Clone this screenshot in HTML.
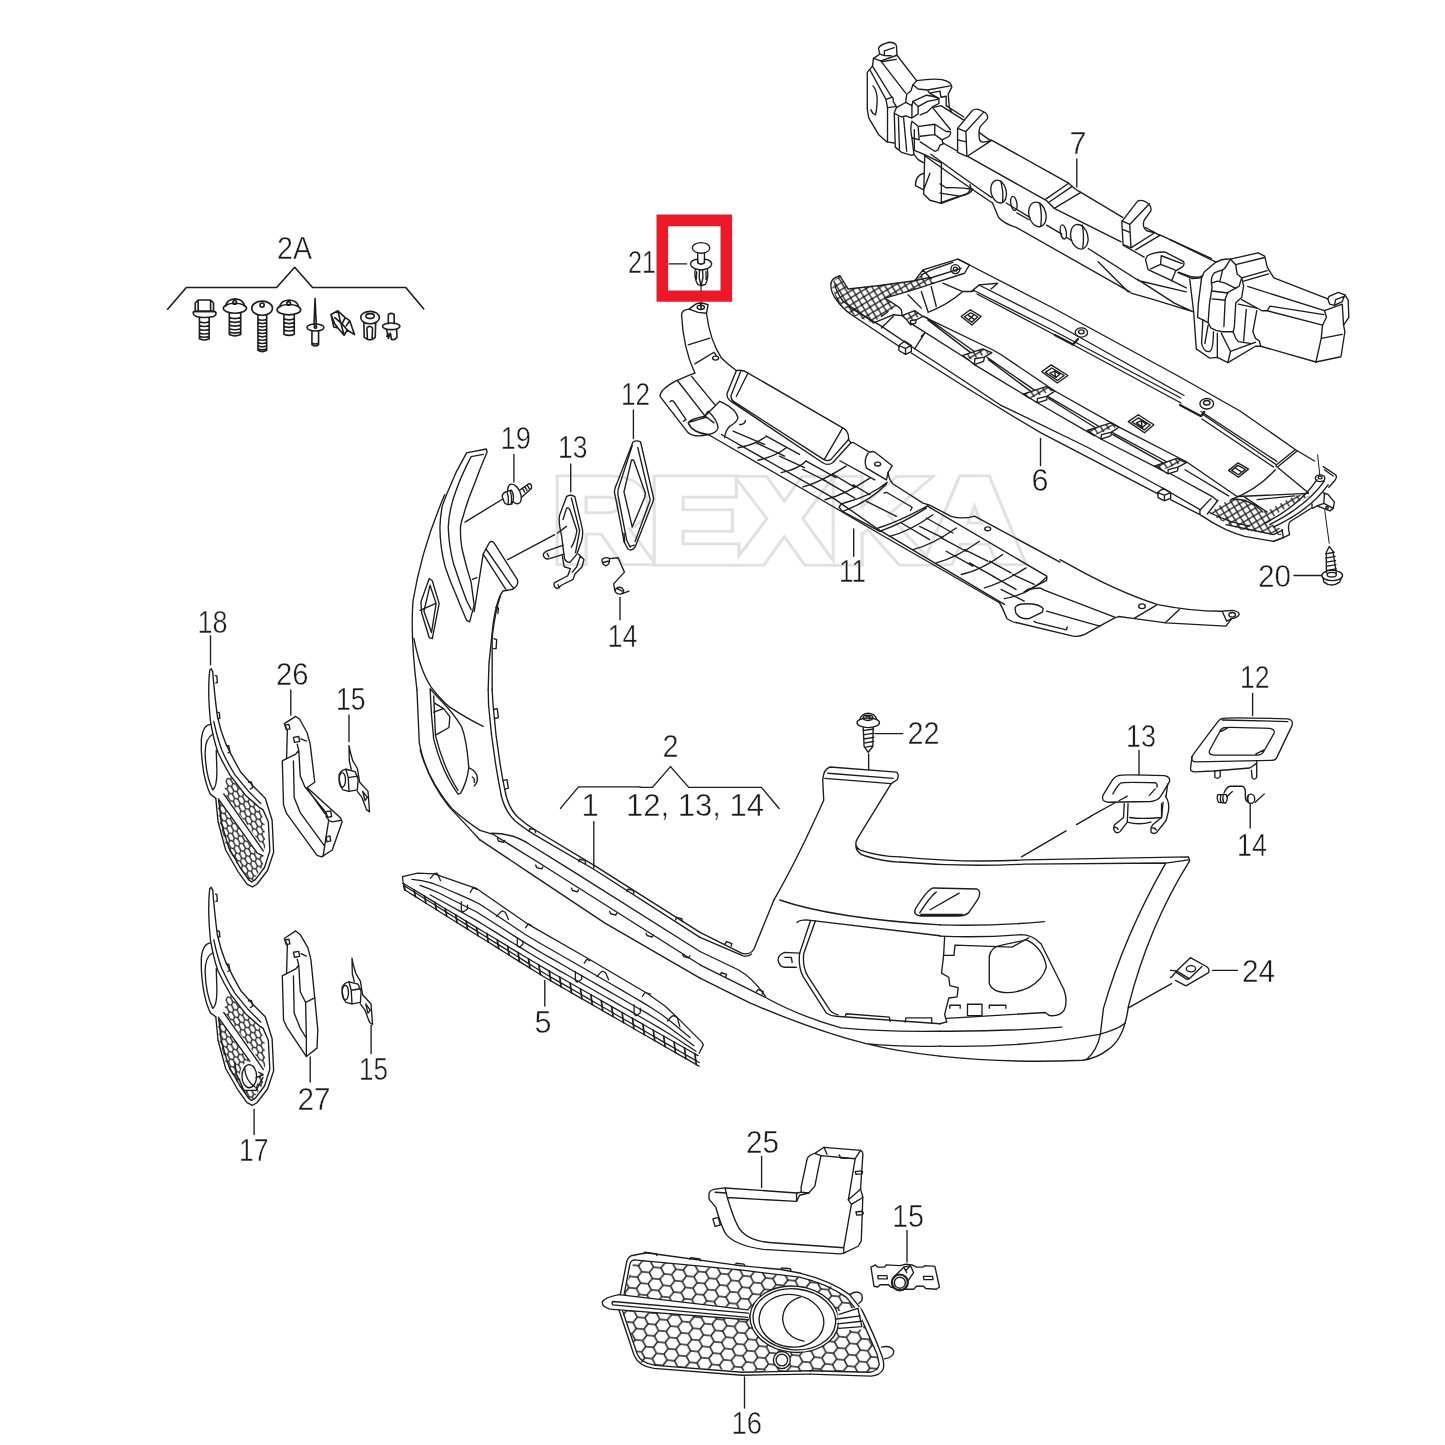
<!DOCTYPE html>
<html><head><meta charset="utf-8"><title>Bumper parts diagram</title>
<style>
html,body{margin:0;padding:0;background:#fff;}
body{width:1445px;height:1445px;overflow:hidden;font-family:"Liberation Sans",sans-serif;}
svg{display:block;position:absolute;left:0;top:0;}
svg text{filter:grayscale(1);}
.l{fill:none;stroke:#1c1c1c;stroke-width:1.35;stroke-linecap:round;stroke-linejoin:round;vector-effect:non-scaling-stroke;}
.l *{vector-effect:non-scaling-stroke;}
.t{fill:none;stroke:#1c1c1c;stroke-width:1;stroke-linecap:round;stroke-linejoin:round;vector-effect:non-scaling-stroke;}
.t *{vector-effect:non-scaling-stroke;}
.w{fill:#fff;}
text{font-family:"Liberation Sans",sans-serif;fill:#1a1a1a;stroke:#fff;stroke-width:0.450;}
</style></head><body>
<svg width="1445" height="1445" viewBox="0 0 1445 1445" font-size="31">
<g font-size="117.500" font-weight="bold" style="stroke-linejoin:miter">
<text x="553" y="560.500" textLength="470" lengthAdjust="spacingAndGlyphs" style="fill:#e1e1e1;stroke:#e1e1e1;stroke-width:11">REXKA</text>
<text x="553" y="560.500" textLength="470" lengthAdjust="spacingAndGlyphs" style="fill:#fff;stroke:#fff;stroke-width:5.500">REXKA</text>
</g>

<!-- 2A fastener kit : traced in zoom space region [150,220,450,370] scale 4.817 -->
<g class="l" transform="translate(150,220) scale(0.2076)" style="stroke-width:1.600">
<path d="M85 430 L175 325 L610 325 L697 228 L783 325 L1232 325 L1318 428"/>
<!-- hex bolt -->
<path d="M218 400 L232 385 L292 385 L306 400 L306 440 L218 440 Z M232 385 L232 440 M292 385 L292 440"/>
<path d="M208 448 Q208 440 218 440 L306 440 Q318 440 318 452 Q318 470 262 470 Q208 470 208 448 Z"/>
<path d="M238 470 L238 572 Q262 584 285 572 L285 470 M238 490 Q262 500 285 490 M238 508 Q262 518 285 508 M238 526 Q262 536 285 526 M238 544 Q262 554 285 544 M238 560 Q262 570 285 560"/>
<!-- screw 2 -->
<path d="M365 415 Q370 382 410 380 Q450 382 455 415"/>
<ellipse cx="409" cy="425" rx="56" ry="24"/>
<circle cx="408" cy="397" r="9"/>
<path d="M382 448 L382 552 Q409 564 437 552 L437 448 M382 470 Q409 480 437 470 M382 488 Q409 498 437 488 M382 506 Q409 516 437 506 M382 524 Q409 534 437 524 M382 540 Q409 550 437 540"/>
<!-- screw 3 long -->
<ellipse cx="540" cy="425" rx="50" ry="34"/>
<circle cx="540" cy="410" r="10"/>
<path d="M520 458 L520 628 Q541 640 562 628 L562 458 M520 478 Q541 488 562 478 M520 494 Q541 504 562 494 M520 510 Q541 520 562 510 M520 526 Q541 536 562 526 M520 542 Q541 552 562 542 M520 558 Q541 568 562 558 M520 574 Q541 584 562 574 M520 590 Q541 600 562 590 M520 606 Q541 616 562 606 M520 620 Q541 630 562 620"/>
<!-- screw 4 -->
<path d="M625 418 Q630 387 670 385 Q710 387 715 418"/>
<ellipse cx="669" cy="432" rx="57" ry="25"/>
<circle cx="668" cy="402" r="9"/>
<path d="M645 456 L645 550 Q670 562 695 550 L695 456 M645 476 Q670 486 695 476 M645 494 Q670 504 695 494 M645 512 Q670 522 695 512 M645 530 Q670 540 695 530"/>
<!-- blind rivet -->
<path d="M795 378 L790 505 M795 378 L801 505"/>
<ellipse cx="797" cy="518" rx="41" ry="17"/>
<path d="M780 534 L780 600 Q796 614 812 600 L812 534 M780 592 Q796 602 812 592"/>
<circle cx="797" cy="516" r="6"/>
<!-- spring clip -->
<path d="M872 455 L905 437 L940 470 L962 485 L985 552 L950 530 L935 555 L905 520 L885 515 Z M872 455 L890 500 L905 520 M905 437 L915 480 L935 555 M890 470 L925 500 M940 470 L925 500 L950 530 M962 485 L945 510"/>
<!-- push clip -->
<ellipse cx="1060" cy="470" rx="45" ry="30"/>
<ellipse cx="1060" cy="463" rx="20" ry="12"/>
<path d="M1030 495 L1032 565 Q1058 590 1085 565 L1087 495 M1045 520 L1047 570 M1072 520 L1070 572 M1045 520 Q1058 505 1072 520"/>
<!-- expanding rivet -->
<path d="M1148 500 L1148 455 Q1162 445 1176 455 L1176 500"/>
<ellipse cx="1162" cy="512" rx="42" ry="16"/>
<path d="M1140 528 L1148 570 L1158 545 L1163 575 Q1180 580 1190 565 L1188 528 M1140 560 L1150 550"/>
</g>
<text x="277" y="258.500" font-size="30.500" textLength="35" lengthAdjust="spacingAndGlyphs">2A</text>

<!-- part 7 left end: zoom region [860,35,1010,185] scale 9.633 -->
<g class="l" transform="translate(860,35) scale(0.10381)">
<path d="M190 185 L178 130 Q185 95 280 70 Q345 70 352 110 L356 195 M235 195 L235 152 L330 122 M190 185 L235 198 L300 200 M215 255 L350 235"/>
<path d="M190 185 L130 225 L120 300 L70 360 L70 720 L85 800 L180 960 L260 1030 L330 1040"/>
<path d="M130 225 L200 250 L356 195 L545 440"/>
<path d="M200 250 L440 560"/>
<path d="M120 300 L300 590 L320 610 L320 640 L350 690"/>
<path d="M95 335 L250 620 L305 600 M250 620 L265 700 L265 1030 M265 700 L340 690"/>
<path d="M125 490 Q190 560 150 770 Q120 760 105 720"/>
<path d="M545 440 Q700 415 790 430 Q880 450 885 500 L850 570 L860 700 L880 735"/>
<path d="M545 440 L510 480 L560 520 L650 530 L870 490 M650 530 L670 560 L770 540 L780 600 L830 590 L830 680 M670 560 L760 610 M770 540 L775 560"/>
<path d="M510 480 L490 540 L450 570 L440 650 L350 700 L330 750 L340 1080 L400 1130 L500 1160 L520 1150"/>
<path d="M440 650 L500 680 L510 640 L640 580 L700 590 L760 610 L760 660 L700 690 L650 740 L580 770"/>
<path d="M500 680 L500 800 L440 780 L400 790 L340 760 M510 640 L560 690 L650 640 L750 620 M560 690 L560 760 L500 800"/>
<path d="M420 800 L450 1120 M370 790 L380 1100"/>
<path d="M500 830 Q480 900 500 990 L520 1150 L560 1200 L610 1230 M500 830 L560 880 L570 1010 L500 990"/>
<path d="M570 880 L720 860 L830 930 L870 930 Q880 960 850 980 L790 1010 L800 1050 L770 1060 L750 1110 L720 1120 L580 1030 M720 860 L720 960 L580 975 M720 960 L790 1010"/>
<path d="M700 700 L870 910 M700 700 L780 680 L1000 820 M830 680 L1000 790"/>
<!-- hook tab 2 -->
<path d="M940 900 L1080 730 Q1110 705 1150 720 L1210 750 Q1240 780 1225 810 L1160 880 Q1140 910 1150 1000 Q1160 1040 1200 1030 L1260 1020 L1030 1170 L940 1130 Z"/>
<path d="M940 900 L1020 930 L1030 1170 M1020 930 L1190 745 M940 1010 L1025 1030 M1150 940 L1260 1020"/>
<path d="M800 1040 L940 1120"/>
</g>

<!-- part 7 middle: zoom C region [940,120,1160,340] scale 6.568 -->
<g class="l" transform="translate(940,120) scale(0.15225)">
<path d="M335 130 L845 415 L890 455 L925 475 L1200 640"/>
<path d="M845 415 L695 520 M868 436 L715 540 M925 475 L750 580"/>
<path d="M185 240 L700 530 L750 580 L1190 800"/>
<path d="M-60 225 Q180 400 340 510 M-100 235 Q170 430 345 545"/>
<path d="M435 545 L590 640 M505 610 L585 655 M700 690 L800 750 M830 770 L860 790"/>
<ellipse cx="385" cy="470" rx="50" ry="76" transform="rotate(-14 385 470)"/>
<path d="M400 400 Q418 470 412 540"/>
<ellipse cx="485" cy="548" rx="20" ry="47" transform="rotate(-10 485 548)"/>
<ellipse cx="640" cy="620" rx="56" ry="82" transform="rotate(-14 640 620)"/>
<path d="M655 545 Q672 620 662 695"/>
<ellipse cx="810" cy="735" rx="19" ry="47" transform="rotate(-10 810 735)"/>
<ellipse cx="915" cy="767" rx="56" ry="82" transform="rotate(-14 915 767)"/>
<path d="M935 690 Q948 760 938 840"/>
<path d="M345 545 L385 640 Q420 680 500 705 L1250 1130"/>
<!-- under block left -->
<path d="M0 420 L40 445 Q130 440 215 455 Q200 490 130 500 L0 545 M0 480 L130 500"/>
</g>
<!-- under-block left of part 7 in zoom A region [850,30,1150,330] scale 4.817 -->
<g class="l" transform="translate(850,30) scale(0.2076)">
<path d="M310 580 L360 600 L355 790 L385 820 L440 835 L560 790 Q590 770 578 745 M440 640 L440 835 M355 690 Q315 700 315 750 L355 770 M385 690 L355 770 M360 600 L440 640 M310 480 L310 580"/>
</g>
<!-- part 7 mid-right: zoom E region [1060,190,1250,380] scale 7.605 -->
<g class="l" transform="translate(1060,190) scale(0.13149)">
<path d="M470 240 L590 85 Q620 70 660 95 Q700 120 690 160 L640 230 Q620 280 660 310 L720 325 L540 440 L480 415 Z M470 235 L530 262 L540 440 M530 262 L680 105 M475 300 L532 322"/>
<path d="M650 285 L760 345 L575 455 M755 340 L1150 520"/>
<path d="M480 420 L640 510"/>
<path d="M665 500 Q720 470 800 472 L940 545 Q950 570 930 585 L880 615 L850 690 L670 605 L650 530 Z M770 500 L765 565 L690 600 M765 565 L870 605 L880 615 M770 500 L930 560"/>
<path d="M900 625 L1000 660 Q1060 670 1085 650"/>
<path d="M215 445 L600 690 L960 775 M540 785 L700 830 L1010 925 M290 545 L520 775 M590 680 L870 860 L1010 925 M850 690 L960 745"/>
</g>
<!-- part 7 right end: zoom D region [1170,220,1360,410] scale 7.605 -->
<g class="l" transform="translate(1170,220) scale(0.13149)">
<path d="M0 150 L350 320"/>
<path d="M350 320 Q400 290 460 298 L440 330 Q420 370 400 380 L340 400 Q310 430 315 480 L320 510 L300 640 L290 780 L310 820 L350 840 L400 850 L480 850 L500 900 L520 925 L620 940 L650 930"/>
<path d="M350 320 L260 395 L240 440 L215 640 L210 740 L250 760 L290 780"/>
<path d="M240 440 L170 445 L60 400 M150 450 L180 700 L200 980 L300 1050 L360 1045 L440 1085 L650 960 L690 960"/>
<path d="M460 298 L670 250 L720 275 L740 360 L790 440 L1200 600"/>
<path d="M460 298 L500 340 L510 410 L545 440 L525 505 L440 550 L420 600 L410 810"/>
<path d="M500 340 L720 285 M545 440 L740 385 M560 465 L750 410"/>
<path d="M545 440 L560 500 L545 590 L500 630 L490 810 L480 850"/>
<path d="M315 480 L360 465 L420 480 L500 520 M320 540 L440 555 M320 600 L420 610 M400 380 L380 465"/>
<path d="M590 505 L1175 690 M545 605 L700 690 L740 690 L760 655 L1170 720 M740 690 L1160 800"/>
<path d="M1200 600 L1210 580 L1280 550 L1330 570 L1355 610 L1360 740 L1320 800 L1330 850 L1300 1040 L1110 1080"/>
<path d="M1200 600 L1215 640 L1250 650 L1310 620 L1330 570 M1250 650 L1260 605 L1325 580"/>
<path d="M1175 690 L1310 640 L1320 800 M1175 690 L1190 740 L1160 800 L1150 900 L1110 1080 M1150 900 L1310 870"/>
<path d="M660 690 L630 850 L650 900 L680 920 L690 960 L1110 1080 M580 680 L560 920 M520 640 L660 670"/>
<path d="M250 760 L240 940 Q260 1010 300 1000 Q330 990 330 850 M290 800 L265 940 M360 860 L360 1045 M390 860 L460 1000 L440 1085 M460 1000 L620 940"/>
</g>
<line class="l" x1="1076.800" y1="159" x2="1076.800" y2="187"/>
<text x="1069.500" y="154" font-size="31" textLength="17" lengthAdjust="spacingAndGlyphs">7</text>

<defs>
<pattern id="xh" width="8.400" height="8.400" patternUnits="userSpaceOnUse" patternTransform="rotate(14)">
<path d="M0 0 L8.400 8.400 M8.400 0 L0 8.400" stroke="#1c1c1c" stroke-width="1.300" fill="none"/>
</pattern>
<pattern id="xh6" width="8.400" height="8.400" patternUnits="userSpaceOnUse" patternTransform="scale(6.0208) rotate(14)">
<path d="M0 0 L8.400 8.400 M8.400 0 L0 8.400" stroke="#1c1c1c" stroke-width="1.300" fill="none"/>
</pattern>
<pattern id="xh8" width="8.400" height="8.400" patternUnits="userSpaceOnUse" patternTransform="scale(8.028) rotate(14)">
<path d="M0 0 L8.400 8.400 M8.400 0 L0 8.400" stroke="#1c1c1c" stroke-width="1.300" fill="none"/>
</pattern>
</defs>
<!-- part 6 global long lines -->
<g class="l">
<path d="M831 283 Q830 292 836.6 300 Q842 308 851.500 314.800 L898.900 346.300 M911.300 353 Q975 394 1041 432.800 L1158 493.800 M1170.500 499.700 L1200 514.600 Q1212 523 1226 529.600 Q1236 534 1244.700 536.400 L1273.400 541.400 L1283.400 537.700"/>
<path d="M848 306.500 L880.600 325.600 L914.700 348.800 Q960 378 1000 404.800 L1087 447 L1160.700 487 L1200 509.600"/>
<path d="M957.800 259 L1055 309 L1112 340 L1180 377 L1240 411 L1296 450 L1314.500 461"/>
<path d="M979 285 L1055 323.500 L1184 395.500 M974 290.500 L1055 331.500 L1181 398 M977 294 L1055 335 L1181 403"/>
<path d="M1201 411.500 L1277 461.500 M1203 414.500 L1276 464.500 M1202 419 L1273.500 467"/>
<path d="M923 316.400 L992 349.500 L1000 354 L1054.800 391 L1119 427.200 L1186 461.500 L1237 496.500"/>
<path d="M926.5 317.5 L974.0 351.2 M927.8 319.9 L970.3 352.4 M987.1 357.4 L1034.2 389.9 M988.4 359.8 L1030.5 391.1 M1047.3 396.1 L1098.4 426.0 M1048.6 398.5 L1094.7 427.2 M1111.5 432.2 L1166.3 461.5 M1112.8 434.6 L1162.6 462.7"/>
<path d="M910.5 323.1 L968.6 360.0 M974.4 364.6 L1030.5 398.5 M1038.6 403.5 L1094.7 435.9 M1100.9 439.0 L1161.9 470.2"/>
</g>
<g class="l"><ellipse cx="1081.400" cy="332.500" rx="6.200" ry="4.600"/><ellipse cx="1081.400" cy="331.800" rx="2.800" ry="2"/><path d="M1054.800 335 L1073 344.500 L1078 339" stroke-width="2.200"/></g>
<!-- part 6 left: zoom F region [815,250,1055,490] scale 6.0208 -->
<g class="l" transform="translate(815,250) scale(0.16609)">
<path fill="url(#xh6)" stroke="none" d="M95 200 L150 155 L200 235 L340 215 L600 185 L640 150 L700 175 L715 200 L560 250 L420 290 L500 340 L440 370 L400 400 L350 440 L220 390 L130 300 Z"/>
<path d="M96 200 Q100 170 150 155 L200 235 Q400 215 600 185 L690 165 M120 205 Q125 250 170 310 L345 430"/>
<path d="M600 185 L650 120 L860 55 L930 90 L900 140 M640 150 L700 120 L830 75 M690 170 L880 110 M715 200 L900 140 M650 120 L700 175"/>
<circle cx="845" cy="115" r="27"/><circle cx="845" cy="115" r="12"/>
<path d="M420 290 Q600 240 715 200 M420 290 L500 340 L520 360 L525 395 M350 440 L470 390 L525 395 M400 400 L440 370"/>
<path d="M560 270 L640 350 M640 250 L680 370 M700 220 L730 340 M680 375 Q800 330 890 250 M770 200 L890 250 L940 250 L990 210 M940 250 L960 245 M990 210 L1100 200 L1060 235"/>
<path fill="url(#xh6)" stroke="none" d="M525 395 L600 365 L640 395 L570 430 Z"/>
<path d="M525 395 L600 365 L650 400 L610 420 L605 440 L575 450 L550 418 Z M575 425 L610 420 M575 425 L575 450"/>
<path d="M400 470 L470 400 M600 595 L660 500 L640 520 M650 400 L660 400"/>
<path d="M505 575 L540 548 L580 575 L580 612 L545 628 L505 605 Z M505 575 L545 592 L580 575 M545 592 L545 628"/>
<path d="M880 400 L935 360 L1000 400 L945 452 Z M900 402 L938 378 L980 402 L944 435 Z M925 395 L955 415 M955 392 L928 418"/>
<path fill="url(#xh6)" stroke="none" d="M890 635 L1010 595 L1050 620 L940 660 Z"/>
<path d="M890 635 L1010 595 L1065 618 L1020 645 L1015 670 L960 690 L925 662 Z M962 655 L1020 645 M962 655 L960 690"/>
</g>
<!-- part 6 middle: zoom H region [1000,340,1180,520] scale 8.028 -->
<g class="l" transform="translate(1000,340) scale(0.12457)">
<path d="M335 255 L410 200 L545 285 L460 345 Z M365 260 L415 225 L515 285 L460 325 Z M400 265 L440 250 L480 275 L450 300 Z M440 250 L445 300"/>
<path d="M1030 655 L1110 600 L1235 680 L1160 745 Z M1060 658 L1112 625 L1205 682 L1158 722 Z M1095 665 L1135 648 L1175 675 L1145 700 Z M1135 648 L1140 700"/>
<path fill="url(#xh8)" stroke="none" d="M185 435 L370 375 L430 405 L250 465 Z"/>
<path d="M185 435 L370 375 L440 410 L380 450 L375 480 L300 505 L245 470 Z M300 470 L380 450 M300 470 L300 505"/>
<path fill="url(#xh8)" stroke="none" d="M700 725 L890 665 L950 695 L770 760 Z"/>
<path d="M700 725 L890 665 L955 700 L895 740 L890 770 L810 795 L760 765 Z M815 760 L895 740 M815 760 L810 795"/>
<path fill="url(#xh8)" stroke="none" d="M1245 1010 L1420 950 L1480 980 L1300 1045 Z"/>
<path d="M1245 1010 L1420 950 L1495 985 L1430 1020 L1425 1050 L1350 1075 L1300 1045 Z M1350 1040 L1430 1020 M1350 1040 L1350 1075"/>
<path d="M1265 1225 L1310 1190 L1370 1225 L1370 1270 L1320 1292 L1270 1265 Z M1265 1225 L1320 1245 L1370 1225 M1320 1245 L1320 1292"/>
</g>
<!-- part 6 right: zoom I region [1170,400,1350,580] scale 8.028 -->
<g class="l" transform="translate(1170,400) scale(0.12457)">
<ellipse cx="295" cy="30" rx="55" ry="42"/><ellipse cx="295" cy="22" rx="26" ry="18"/>
<path d="M80 40 L250 130 L275 95" stroke-width="2.200"/>
<path d="M1005 400 L855 520 M1018 412 L870 532 M850 530 L1110 745 M490 800 Q700 720 845 560"/>
<path d="M470 565 L545 505 L630 555 L550 620 Z M495 565 L545 525 L605 558 L550 600 Z M530 550 L570 575"/>
<path d="M0 590 L340 775 L375 805 M120 560 L470 770"/>
<path d="M240 885 L330 790 M300 915 L385 805 M240 885 L240 918"/>
<path fill="url(#xh8)" stroke="none" d="M320 905 L420 830 L500 790 L620 800 L700 870 L740 900 L800 880 L900 820 L1000 770 L1100 750 L1120 770 L1000 830 L880 900 L780 980 L860 1020 L900 1040 L890 1085 L830 1080 L700 1060 L560 1040 L450 990 L380 950 Z"/>
<path d="M500 795 Q640 790 745 900 M320 905 Q480 985 640 1012 M540 775 L1110 750 M700 800 L1000 770 M600 780 L780 900"/>
<path d="M760 990 Q1050 840 1180 640 M800 1000 Q1100 850 1240 650 M830 1020 Q1130 880 1270 680"/>
<path d="M900 1040 L910 1105 M830 1135 L910 1105 L960 1080 Q940 1000 965 975 L1140 865 L1140 835 M905 1045 L830 1080 L450 1000"/>
<path d="M1230 535 L1330 600 Q1345 620 1320 650 L1275 700 M1240 560 L1310 610"/>
<path d="M1230 745 L1265 755 L1320 820 L1310 870 L1285 890 L1180 850 L1145 870 M1240 745 L1235 830 L1180 850 M1235 830 L1310 870"/>
<circle cx="1260" cy="865" r="10"/>
<ellipse cx="1205" cy="628" rx="38" ry="27"/><ellipse cx="1205" cy="622" rx="16" ry="11"/>
<path d="M1203 605 L1185 440" stroke-width="1"/>
<path d="M1242 885 L1278 1150" stroke-width="1"/>
</g>
<!-- screw 20 : zoom J region [1240,480,1360,600] scale 12.04 -->
<g class="l" transform="translate(1240,480) scale(0.08304)">
<path d="M1075 800 L1040 870 L1040 1120 M1075 800 L1120 860 L1160 1120 M1030 890 L1135 870 M1030 940 L1145 920 M1035 990 L1150 970 M1040 1040 L1155 1020 M1045 1090 L1160 1070"/>
<ellipse cx="1110" cy="1150" rx="125" ry="62"/>
<ellipse cx="1105" cy="1140" rx="55" ry="28"/>
<path d="M1000 1180 L1010 1230 Q1100 1300 1200 1230 L1220 1180"/>
<path d="M650 1150 L985 1150"/>
</g>
<text x="1258" y="586.500" font-size="31" textLength="33" lengthAdjust="spacingAndGlyphs">20</text>
<line class="l" x1="1040.500" y1="438.400" x2="1040.500" y2="465.500"/>
<text x="1031.500" y="491" font-size="31" textLength="17" lengthAdjust="spacingAndGlyphs">6</text>

<!-- part 11 left: zoom K region [650,290,890,530] scale 6.0208 -->
<g class="l" transform="translate(650,290) scale(0.16609)">
<path d="M235 115 L275 85 Q310 70 350 90 L340 140 Q360 300 430 410 Q470 450 520 485 M235 115 Q190 120 190 150 Q200 350 270 500 M235 115 L290 135 L340 140 M305 80 L308 112"/>
<path d="M230 330 L360 290 M270 445 L385 375 L400 395"/>
<ellipse cx="395" cy="410" rx="18" ry="12"/>
<path d="M270 500 L230 515 L150 550 Q60 600 60 640 L230 860 Q270 890 350 870 L1130 1320"/>
<path d="M430 870 L1100 1250"/>
<path d="M520 485 Q560 478 590 500 L1160 830 Q1200 850 1195 900 L1210 920"/>
<path d="M520 485 L465 620 Q458 650 490 672 L1040 1040 Q1070 1060 1100 1040 L1210 920 M545 492 L488 635 Q485 660 505 672 L1045 1020 Q1070 1035 1090 1020 L1195 900 M590 500 L520 640 M1160 830 L1050 1020"/>
<path d="M120 672 Q130 662 142 670 L217 780 L200 790 M165 545 L340 770 M250 520 L390 690"/>
<path d="M230 800 Q245 775 330 760 L350 730 Q405 780 410 830 Q400 862 350 870 Q255 860 230 800 M240 795 L340 765 L385 800"/>
<path d="M330 760 L420 670 L445 682 Q520 720 530 770 Q520 800 480 820 Q450 850 450 890 M540 810 Q570 810 575 785"/>
<path d="M530 950 Q640 930 700 880 M650 1025 Q760 1000 820 950 M790 1100 Q890 1080 940 1030 M920 1185 Q1020 1160 1180 1060"/>
<path d="M500 850 L690 930 M640 920 L810 1000 M700 880 L900 990 M780 1000 L930 1070 M920 1080 L1060 1150 M940 1030 L1120 1130"/>
</g>
<!-- part 11 middle: zoom L region [820,430,1060,670] scale 6.0208 -->
<g class="l" transform="translate(820,430) scale(0.16609)">
<path d="M106 477 L350 620 L1080 1040 Q1095 1060 1125 1135 Q1160 1158 1180 1160"/>
<path d="M76 407 L350 598 L1110 1050"/>
<path d="M186 77 L200 75 L300 135 Q320 120 345 145 L435 215 L410 255 Q415 300 440 325 L620 440 L660 452 L790 520 Q860 540 930 518 L1445 795"/>
<path d="M290 140 Q260 180 280 230 L400 300 L410 255"/>
<ellipse cx="347" cy="205" rx="18" ry="12"/><ellipse cx="1010" cy="595" rx="18" ry="12"/>
<path d="M115 465 Q120 445 160 435 Q300 400 405 315 M135 490 Q300 430 400 325 M115 465 L135 490 L360 610"/>
<path d="M350 590 Q480 550 650 455 M360 610 Q500 560 640 470"/>
<path d="M385 380 L400 375 L555 465 L545 485"/>
<path d="M30 420 Q150 390 300 290 M420 640 Q540 610 680 510 M560 720 Q680 690 820 590 M700 800 Q820 770 960 670 M850 870 Q960 850 1100 750 M990 950 Q1100 920 1240 830 M1110 1015 Q1260 990 1365 885"/>
<path d="M20 300 L210 410 M75 265 L210 345 M120 185 L330 300 M200 330 L300 390 M280 430 L460 520 M490 560 L660 660 M600 580 L740 650 M640 530 L800 620 M730 650 L880 730 M760 730 L920 820 M870 720 L1010 790 M900 800 L1060 890 M1020 790 L1150 860 M1040 880 L1180 960 M1160 870 L1290 930 M1090 960 L1230 1030"/>
<path d="M650 460 L1365 880 L1365 905 L1230 975"/>
</g>
<!-- part 11 right: zoom M region [1000,480,1240,720] scale 6.0208 -->
<g class="l" transform="translate(1000,480) scale(0.16609)">
<path d="M361 480 L400 500 Q700 670 950 750 Q1150 790 1330 790 L1400 785 Q1440 790 1440 810 Q1430 830 1395 835 L1360 880 L1000 860 L810 835 L715 822 L690 830 L510 930 Q480 945 440 940 L96 858"/>
<path d="M940 755 L810 832 M1080 780 L995 860 M1340 795 L1365 850 L1395 835"/>
<ellipse cx="855" cy="760" rx="20" ry="14"/><ellipse cx="1398" cy="812" rx="20" ry="14"/>
<path d="M146 674 L170 657 L240 650 L270 665 L690 825 M280 790 L600 880"/>
<path d="M90 770 Q100 745 160 745 Q240 745 260 775 L255 795 L175 835 Q120 840 95 800 Z"/>
<path d="M205 850 L215 857 L400 902 L405 885"/>
</g>
<line class="l" x1="853.700" y1="528.800" x2="853.700" y2="556.200"/>
<text x="839" y="581.500" font-size="31" textLength="27" lengthAdjust="spacingAndGlyphs">11</text>

<!-- bumper upper-left wing: zoom N region [395,430,655,690] scale 5.5577 -->
<g class="l" transform="translate(395,430) scale(0.17993)">
<path d="M397.700 126.900 L507.700 105.800 L512 122.700 Q470 220 440 304.600 Q400 400 380.800 473.900 Q365 520 363.900 541.600 Q362 600 372.300 660 Q395 760 423.100 846.200 L440 973.100 L414.600 1066.200 L397.700 1057.800 Q365 980 338.500 913.900 Q305 840 279.200 761.600 Q250 650 249.600 541.600 Q252 480 262.300 423.100 L287.700 355.400 L338.500 237 Z"/>
<path d="M490.800 135.400 L423.100 148.100 Q370 250 338.500 338.500 Q300 440 296 541.600 Q300 650 325.800 744.700 Q360 850 397.700 947.700 L423.100 998.500"/>
<path d="M277 359 Q150 650 100 950 Q85 1150 122 1445"/>
<path d="M440 1010 L490 690 L525 625 Q540 612 552 630 L680 832 Q690 862 655 885 L600 895 Q565 940 545 1080 L522 1300 L518 1445 M490 690 L615 885 M505 660 L640 855 L660 880 M430 830 L455 820"/>
<path d="M585 925 Q558 1000 540 1150 L540 1445 M560 985 L575 990 L572 1020 M550 1160 L565 1165 L562 1215 L548 1215"/>
<path d="M190.400 825 L207.300 837.700 L245.400 964.700 L207.300 1159.300 L190.400 1155 L148.100 1015.400 L143.900 956.200 Z M194.600 863 L228.500 964.700 L203 1125.500 L160.800 1007 Z M139.600 1002.700 L224.200 964.700"/>
</g>
<!-- bumper left lower: zoom O region [395,660,655,920] scale 5.5577 -->
<g class="l" transform="translate(395,660) scale(0.17993)">
<path d="M122 167 Q128 300 135 460 Q170 650 300 815 Q380 900 472 1000"/>
<path d="M140 500 Q190 680 320 830 Q400 900 472 947"/>
<path d="M105 -120 Q140 60 200 149 Q250 215 300 259 Q400 325 490 369"/>
<path d="M195 160 Q200 300 215 440 Q260 620 350 745 L365 740 Q400 680 410 600 Q400 450 370 370 Q320 290 250 220 Z M215 200 L225 420 Q270 600 350 725 M215 290 L270 270 L305 315 L300 375 L230 415 M270 270 L220 240"/>
<path d="M410 600 Q440 610 455 640 Q465 680 440 700 M430 650 Q445 660 440 680"/>
<path d="M518 167 L520 250 Q540 500 590 750 M540 167 L545 250 Q565 500 610 720"/>
<path d="M548 275 L568 270 L575 320 L555 325 M600 670 L622 665 L630 712 L612 718"/>
</g>
<!-- bumper band lines: zoom R region [480,800,720,1040] scale 6.0208 -->
<g class="l" transform="translate(480,800) scale(0.16609)">
<path d="M127 -30 Q150 70 215 130 Q270 175 330 210 L690 420 L1324.600 827"/>
<path d="M149 -63 Q170 50 230 105 Q280 150 340 185 L690 395 L1324.600 797"/>
<path d="M70 200 Q200 200 300 268 L560 430 L1324.600 912"/>
<path d="M0 183 L75 205 L350 375 L1324.600 992"/>
<path d="M0 240 L300 440 L750 740 L1324.600 1072"/>
<path d="M295 188 L300 172 L330 178 L335 196 M595 372 L600 357 L632 364 L636 382 M885 552 L890 537 L922 544 L926 562 M1178 722 L1183 707 L1215 714 L1219 732"/>
<path d="M105 232 L112 247 L142 255 L148 243 M335 392 L342 407 L372 415 L378 403 M550 530 L557 545 L587 553 L593 541 M780 670 L787 685 L817 693 L823 681 M1000 802 L1007 817 L1037 825 L1043 813 M1220 928 L1227 943 L1257 951 L1263 939"/>
</g>
<!-- bumper bottom centre: zoom S region [700,900,940,1140] scale 6.0208 -->
<g class="l" transform="translate(700,900) scale(0.16609)">
<path d="M0 195 L250 320 Q300 335 325 295 L445 0 M0 225 L260 336 Q290 342 310 325 M150 265 L160 250 L192 262 L188 278"/>
<path d="M0 310 L230 420 Q320 470 395 582"/>
<path d="M0 390 L400 590 Q600 700 850 770 Q1100 795 1445 790 M120 450 L130 438 L160 448 L155 462 M340 552 L350 540 L380 550 L375 566"/>
<path d="M0 470 L300 620 Q700 790 1000 865 Q1200 885 1445 880 M980 860 Q1200 915 1445 940"/>
<path d="M585 135 Q600 120 640 120 L1445 215"/>
<path d="M665 125 L600 320 Q590 400 620 460 L760 680 Q790 700 820 700 L1445 745 M695 125 L625 320 Q615 400 650 460 L780 660 Q800 685 830 690"/>
<path d="M600 320 L510 315 Q470 330 470 360 Q475 400 510 405 L580 405 M510 345 L550 345 L555 375"/>
<path d="M875 700 L880 685 L1140 705 L1145 730 M1235 735 L1240 710 L1395 710 L1395 740"/>
<path d="M480 0 Q800 110 1445 150"/>
</g>
<!-- bumper pillar: zoom P region [640,740,940,1040] scale 4.8167 -->
<g class="l" transform="translate(640,740) scale(0.20761)">
<path d="M880 190 Q885 140 915 130 L1235 155 Q1250 165 1240 190 L1210 210 L1050 470 Q1025 510 1060 530 Q1150 560 1252 563 M1040 500 Q1035 545 1090 560 Q1170 585 1252 588"/>
<path d="M905 160 L1220 185 M890 185 L1210 210 M880 190 L885 290 Q760 570 645 771"/>
<path d="M0 228 L60 228 L147 128 L235 228 L585 228 L670 330"/>
</g>
<!-- bumper right face: zoom Q region [900,780,1200,1080] scale 4.8167 -->
<g class="l" transform="translate(900,780) scale(0.20761)">
<path d="M0 370 Q300 400 600 385 L1390 370 L1395 390 Q1200 700 1100 1090 Q1080 1250 1000 1300 Q950 1340 880 1350 Q500 1365 192 1330"/>
<path d="M0 395 Q300 420 600 405 L1280 400 L1390 385 M1280 400 Q1080 750 980 1100 L965 1225 Q950 1300 900 1345"/>
<path d="M192 1282 Q600 1290 960 1225 Q1050 1200 1085 1170 M192 1210 Q500 1212 780 1190"/>
<path d="M75 620 Q130 530 160 520 L370 525 Q395 535 375 575 L330 640 Q310 655 280 655 L100 655 Q60 650 75 620 Z M95 640 Q150 555 175 540 M145 625 L285 545 M100 648 L300 648"/>
<path d="M192 698 Q450 705 695 682"/>
<path d="M192 752 Q400 760 580 745 Q640 745 680 790 L790 1010 Q810 1070 790 1110 Q770 1140 720 1135 L700 1120 L225 1148 M192 1174 L225 1165"/>
<path d="M215 755 L210 845 L260 845 L265 795 L540 805 L620 760 M210 845 L200 930 L235 950 L240 990 L280 1000 L275 1045 L235 1050 L215 1130 L225 1165"/>
<path d="M240 1100 L240 1085 L290 1085 L290 1100 M325 1080 L395 1080 L395 1135 L325 1135 Z M430 1100 L430 1085 L510 1085 L510 1100"/>
<path d="M430 850 Q440 800 490 795 L610 770 Q690 810 705 900 Q690 960 620 1000 Q540 1035 480 1020 Q440 1010 430 980 Z"/>
</g>

<!-- part 5 (generated) -->
<g class="l" style="stroke-width:1.250">
<path d="M403.0 883.2 L413.2 889.3 L423.3 895.4 L433.5 901.6 L443.7 907.7 L453.9 913.8 L464.0 919.9 L474.2 926.1 L484.4 932.2 L494.6 938.3 L504.7 944.4 L514.9 950.6 L525.1 956.7 L535.2 962.8 L545.4 968.9 L555.6 974.7 L565.8 980.5 L575.9 986.3 L586.1 992.0 L596.3 997.8 L606.4 1003.6 L616.6 1009.4 L626.8 1015.2 L637.0 1020.9 L647.1 1026.7 L657.3 1032.5 L667.5 1038.3 L677.7 1044.0 L687.8 1049.8 L698.0 1055.6"/>
<path d="M404.5 889.8 L414.7 896.1 L424.8 902.5 L435.0 908.8 L445.1 915.2 L455.3 921.5 L465.5 927.9 L475.6 934.2 L485.8 940.5 L496.0 946.9 L506.1 953.2 L516.3 959.6 L526.4 965.9 L536.6 972.3 L546.8 978.5 L556.9 984.4 L567.1 990.2 L577.3 996.1 L587.4 1001.9 L597.6 1007.8 L607.7 1013.6 L617.9 1019.5 L628.1 1025.3 L638.2 1031.2 L648.4 1037.0 L658.6 1042.9 L668.7 1048.7 L678.9 1054.6 L689.0 1060.4 L699.2 1066.3"/>
<path d="M404.5 886.0 L414.7 892.3 L424.8 898.7 L435.0 905.0 L445.1 911.4 L455.3 917.7 L465.5 924.1 L475.6 930.4 L485.8 936.7 L496.0 943.1 L506.1 949.4 L516.3 955.8 L526.4 962.1 L536.6 968.5 L546.8 974.7 L556.9 980.6 L567.1 986.4 L577.3 992.3 L587.4 998.1 L597.6 1004.0 L607.7 1009.8 L617.9 1015.7 L628.1 1021.5 L638.2 1027.4 L648.4 1033.2 L658.6 1039.1 L668.7 1044.9 L678.9 1050.8 L689.0 1056.6 L699.2 1062.5"/>
<path d="M402.5 876.6 L417.7 873.1 L434.3 873.8 L470.3 886.3 L476.5 888.4 L528.4 924.4 L588.0 958.5 L646.6 993.0 L665.0 1006.0 L678.4 1018.6 L701.9 1042.1 L703.3 1044.9 L699.2 1053.2"/>
<path d="M402.5 876.6 L403 882 L404.5 889.8"/>
<path d="M412.0 879.4 L421.6 880.7 L431.2 882.9 L440.8 886.5 L450.3 890.7 L459.9 894.9 L469.5 899.1 L479.1 903.8 L488.7 910.1 L498.3 916.5 L507.9 922.8 L517.4 929.2 L527.0 935.5 L536.6 941.2 L546.2 946.8 L555.8 952.2 L565.4 957.7 L575.0 963.2 L584.6 968.7 L594.1 974.2 L603.7 979.8 L613.3 985.3 L622.9 990.9 L632.5 996.5 L642.1 1002.1 L651.7 1008.0 L661.2 1014.3 L670.8 1021.5 L680.4 1029.4 L690.0 1037.5"/>
<path d="M420.0 885.3 L429.4 888.9 L438.9 893.0 L448.3 897.8 L457.8 902.5 L467.2 907.2 L476.7 912.0 L486.1 918.0 L495.6 924.0 L505.0 930.1 L514.5 936.1 L523.9 942.1 L533.4 947.9 L542.8 953.5 L552.3 958.9 L561.7 964.3 L571.2 969.7 L580.6 975.1 L590.1 980.5 L599.5 985.9 L609.0 991.4 L618.4 996.8 L627.9 1002.2 L637.3 1007.7 L646.8 1013.1 L656.2 1019.0 L665.7 1025.0 L675.1 1031.8 L684.6 1038.7 L694.0 1045.7"/>
<path d="M430.0 894.8 L439.2 899.7 L448.3 904.8 L457.5 909.9 L466.7 915.0 L475.9 920.1 L485.0 925.7 L494.2 931.4 L503.4 937.1 L512.6 942.7 L521.7 948.4 L530.9 954.0 L540.1 959.5 L549.2 964.8 L558.4 970.1 L567.6 975.3 L576.8 980.5 L585.9 985.7 L595.1 991.0 L604.3 996.2 L613.4 1001.4 L622.6 1006.7 L631.8 1011.9 L641.0 1017.2 L650.1 1022.5 L659.3 1027.9 L668.5 1033.5 L677.7 1039.3 L686.8 1045.3 L696.0 1051.2"/>
<path d="M461.3 901.5 L461.3 910.4 L463.3 911.9 L467.5 908.9 L467.5 905.0"/>
<path d="M517.3 937.5 L517.3 945.7 L519.3 947.2 L522.9 944.2 L522.9 941.0"/>
<path d="M575.4 971.8 L575.4 980.7 L577.4 982.2 L581.6 979.2 L581.6 975.3"/>
<path d="M634.1 1004.7 L634.1 1014.3 L636.1 1015.8 L640.3 1012.8 L640.3 1008.2"/>
<path d="M430.3 878.3 L434.3 873.8 Q437.3 871.8 438.1 875.3 L440.6 880.8"/>
<path d="M496.7 916.4 L500.7 911.9 Q503.7 909.9 506.0 913.4 L508.5 919.5"/>
<path d="M596.9 976.7 L600.9 972.2 Q603.9 970.2 606.1 973.7 L608.6 979.8"/>
<path d="M667.5 1021.0 L671.5 1016.5 Q674.5 1014.5 677.4 1018.0 L679.9 1026.9"/>
<path d="M470.3 892.5 L472.8 887.9 L477.2 889.4"/>
<path d="M525.6 927.8 L528.1 923.9 L531.2 925.4"/>
<path d="M584.3 963.2 L586.8 959.3 L589.8 960.8"/>
<path d="M642.4 996.4 L644.9 992.5 L650.7 994.0"/>
<path style="stroke-width:1.700" d="M403.7 883.6 L405.1 890.2 M414.1 889.9 L415.5 896.7 M424.5 896.1 L425.9 903.2 M434.9 902.4 L436.3 909.6 M445.3 908.7 L446.7 916.1 M455.7 914.9 L457.1 922.6 M466.1 921.2 L467.5 929.1 M476.5 927.5 L477.9 935.6 M486.9 933.7 L488.3 942.1 M497.3 940.0 L498.7 948.6 M507.7 946.2 L509.1 955.1 M518.1 952.5 L519.5 961.6 M528.5 958.8 L529.9 968.1 M538.9 965.0 L540.3 974.6 M549.3 971.1 L550.7 980.8 M559.7 977.0 L561.1 986.8 M570.1 983.0 L571.5 992.8 M580.5 988.9 L581.9 998.7 M590.9 994.8 L592.3 1004.7 M601.3 1000.7 L602.7 1010.7 M611.7 1006.6 L613.1 1016.7 M622.1 1012.5 L623.5 1022.7 M632.5 1018.4 L633.9 1028.7 M642.9 1024.3 L644.3 1034.7 M653.3 1030.2 L654.7 1040.7 M663.7 1036.1 L665.1 1046.7 M674.1 1042.0 L675.5 1052.7 M684.5 1047.9 L685.9 1058.6 M694.9 1053.8 L696.3 1064.6"/>
</g>
<line class="l" x1="544.800" y1="980.500" x2="544.800" y2="1006"/>
<text x="534.500" y="1033" font-size="31" textLength="17" lengthAdjust="spacingAndGlyphs">5</text>

<!-- parts 19,13,12 (left): zoom T region [480,370,680,570] scale 7.225 -->
<g class="l" transform="translate(480,370) scale(0.13841)">
<path d="M1105 520 Q1130 505 1160 520 L1255 930 Q1250 960 1230 1000 L1120 1280 Q1100 1310 1070 1295 L1040 1240 L1030 1180 L975 900 Q965 870 985 830 Z"/>
<path d="M1095 650 L1110 650 L1195 890 L1190 920 L1100 1135 L1040 880 Z M1100 545 L1005 840 Q990 880 1000 920 L1060 1230 L1085 1280 M1040 1180 L1045 1240 M1090 1272 L1115 1265 M1140 560 L1230 940 L1120 1240"/>
<path d="M625 915 Q650 895 685 915 L740 1150 Q745 1190 735 1230 L700 1330 L650 1390 Q620 1390 610 1360 L590 1200 Q565 1100 575 1050 Z"/>
<path d="M625 1000 Q640 990 650 1010 L700 1160 Q690 1230 660 1280 M625 1000 L600 1080 M660 925 L720 1160 L690 1320"/>
<path d="M200 1370 L540 1190 M560 1178 L625 1130"/>
</g>
<!-- bolt 19: zoom region [395,430,615,650] scale 6.568 -->
<g class="l" transform="translate(395,430) scale(0.15225)">
<path d="M815 398 L878 353 Q900 352 897 382 L832 442 M838 383 L852 408 M853 372 L867 396 M868 361 L882 385"/>
<ellipse class="w" cx="785" cy="420" rx="38" ry="68" transform="rotate(-24 785 420)"/>
<path class="w" d="M705 440 Q700 420 730 405 L765 395 Q790 440 768 485 Q740 497 720 480 Z"/>
<path d="M735 406 Q750 445 742 490 M755 398 Q772 440 762 487"/>
<path d="M460 605 L705 455"/>
</g>
<!-- parts 13 arms, 14 (left): zoom N region [395,430,655,690] scale 5.5577 -->
<g class="l" transform="translate(395,430) scale(0.17993)">
<path d="M935 640 L850 670 Q820 680 825 700 Q835 722 860 715 L940 690 M845 685 L855 705"/>
<path d="M1020 690 L1050 720 L1040 760 L1000 800 L990 830 L930 860 L900 882 Q880 872 885 850 L960 810 L975 770 L940 760 L930 700 M905 860 L915 878 M1030 700 L1010 760 L985 790"/>
<path d="M1150 720 Q1170 702 1192 715 L1240 710 L1275 790 L1215 855 L1222 892 M1150 720 Q1150 745 1170 755 Q1195 750 1192 715 M1160 735 L1190 728"/>
<path d="M1222 892 Q1235 865 1262 878 Q1282 900 1255 912 Q1230 915 1222 892 M1255 912 L1300 895 M1232 880 L1262 895"/>
</g>
<g class="l">
<line x1="633.400" y1="410" x2="633.400" y2="438.500"/>
<line x1="513.900" y1="454.500" x2="513.900" y2="482"/>
<line x1="570.700" y1="464" x2="570.700" y2="491.800"/>
<line x1="620" y1="597.300" x2="620" y2="619.800"/>
</g>
<text x="621" y="405" font-size="31" textLength="29" lengthAdjust="spacingAndGlyphs">12</text>
<text x="500.500" y="448.500" font-size="31" textLength="30.500" lengthAdjust="spacingAndGlyphs">19</text>
<text x="558" y="457.500" font-size="31" textLength="29.500" lengthAdjust="spacingAndGlyphs">13</text>
<text x="607.500" y="646.500" font-size="31" textLength="30" lengthAdjust="spacingAndGlyphs">14</text>

<!-- parts 12,13,14 right: zoom U region [1090,650,1310,870] scale 6.568 -->
<g class="l" transform="translate(1090,650) scale(0.15225)">
<path d="M870 450 Q890 440 1300 452 Q1340 460 1325 500 L1225 710 Q1215 725 1190 725 L700 735 Q660 735 670 700 Q680 680 840 470 Q855 452 870 450 Z"/>
<path d="M880 510 Q900 505 1180 515 Q1215 520 1210 545 L1145 660 Q1130 690 1100 690 L810 690 Q770 685 790 650 L850 540 Q860 515 880 510 Z M862 535 L905 512 M1090 682 L1140 657 M870 460 L1300 470"/>
<path d="M670 700 L660 780 Q660 800 690 800 L810 795 L1050 775 L1095 745 M1095 728 L1095 790"/>
<path d="M820 797 L820 835 Q838 852 855 832 L855 795 M1060 790 L1065 840 Q1080 857 1095 837 L1095 790"/>
<path d="M880 940 Q895 900 920 895 L1000 895 Q1025 900 1020 960 Q1020 990 1040 1000 M900 962 L935 930"/>
<path d="M840 950 Q828 975 845 1000 L890 1005 Q910 980 895 950 Z M860 950 Q850 975 862 1002 M875 950 Q868 975 878 1003"/>
<ellipse cx="1057" cy="977" rx="25" ry="30"/>
<path d="M1042 952 Q1030 977 1044 1004 M1085 1000 L1145 945"/>
<path d="M185 825 Q200 815 490 825 Q535 835 520 870 L465 960 Q445 990 400 995 L120 1000 Q70 995 85 955 Q100 930 150 850 Q165 830 185 825 Z"/>
<path d="M150 945 Q180 890 200 875 Q210 865 430 872 Q445 880 440 900 M390 955 L428 912"/>
<path d="M225 1010 L220 1100 L160 1150 Q150 1175 165 1195 Q185 1207 200 1190 L245 1130 L250 1010 M245 1130 Q320 1152 400 1130 M260 1100 Q330 1112 470 1100 L480 1000"/>
<path d="M495 960 Q525 1000 515 1060 L500 1120 L440 1195 Q420 1215 400 1195 Q395 1170 410 1150 L470 1100 M470 1010 L470 1100 M510 880 L500 960"/>
<path d="M160 1165 Q175 1160 185 1178 M410 1170 Q425 1165 435 1182"/>
<path d="M0 1095 L170 1000 M190 990 L245 960"/>
</g>
<!-- bumper to 13R dash-dot leader: Q coords -->
<g class="l" transform="translate(900,780) scale(0.20761)">
<path d="M585 370 L800 245 M850 215 L915 178"/>
</g>
<!-- screw 22: zoom V region [840,690,960,810] scale 12.04 -->
<g class="l" transform="translate(840,690) scale(0.08304)">
<ellipse cx="340" cy="395" rx="135" ry="58"/>
<path d="M240 355 Q250 290 340 278 Q430 290 442 355"/>
<ellipse cx="337" cy="335" rx="58" ry="32"/>
<path d="M315 320 Q335 305 360 322 Q372 338 355 350"/>
<path d="M280 450 L290 680 L340 750 L395 680 L400 450 M275 490 L405 470 M280 540 L408 520 M283 590 L408 570 M288 640 L405 620 M295 690 L395 672"/>
<path d="M420 525 L755 525 M345 770 L345 960"/>
</g>
<!-- part 24: zoom W region [1140,920,1300,1080] scale 9.031 -->
<g class="l" transform="translate(1140,920) scale(0.11073)">
<path d="M330 460 L455 340 L600 420 Q630 440 620 475 L415 595 L320 545 M275 455 L330 460 L445 530 L560 420 M330 460 L290 510 L275 520 M445 530 Q420 545 400 520 L320 470"/>
<ellipse cx="460" cy="440" rx="42" ry="28"/>
<path d="M-105 794 L285 575 M655 455 L880 455"/>
</g>
<g class="l">
<line x1="1252.600" y1="693.400" x2="1252.600" y2="715.500"/>
<line x1="1139" y1="750.500" x2="1139" y2="774.800"/>
<line x1="1250.200" y1="803.800" x2="1250.200" y2="828"/>
</g>
<text x="1240" y="687.500" font-size="31" textLength="29.500" lengthAdjust="spacingAndGlyphs">12</text>
<text x="1126" y="746.500" font-size="31" textLength="30" lengthAdjust="spacingAndGlyphs">13</text>
<text x="1237" y="855.500" font-size="31" textLength="30" lengthAdjust="spacingAndGlyphs">14</text>
<text x="907.500" y="743.500" font-size="31" textLength="32" lengthAdjust="spacingAndGlyphs">22</text>
<text x="1242" y="981.500" font-size="31" textLength="33" lengthAdjust="spacingAndGlyphs">24</text>

<defs>
<pattern id="hexL" width="14.100" height="5.200" patternUnits="userSpaceOnUse" patternTransform="rotate(63)">
<path d="M0 2.600 L2.350 0 L7.050 0 L9.400 2.600 L7.050 5.200 L2.350 5.200 Z M9.400 2.600 L14.100 2.600" stroke="#1c1c1c" stroke-width="1.250" fill="none"/>
</pattern>
<g id="grilleL">
<polygon points="225.7,779.2 230.2,776.1 245.5,795.9 259.2,808.1 264.5,821.8 265.3,850.0 224.2,793.2" fill="url(#hexL)" stroke="none"/>
<polygon points="217.8,806.6 218.4,799.7 256.9,853.8 263.0,856.8 263.0,866.0 253.1,880.4 247.8,878.9 238.6,866.7 226.4,846.2 219.3,821.8" fill="url(#hexL)" stroke="none"/>
<g class="l" transform="translate(180,700) scale(0.15225)">
<path d="M195 -195 L205 -205 L215 -185 M195 -195 Q180 -60 200 140 Q220 260 250 345 Q290 430 330 495 L430 625 L520 705 L545 720 L580 800 L590 990 L555 1100 L495 1180 L470 1195 L450 1180 L395 1100 L320 970 L270 800 L255 660"/>
<path d="M215 -185 Q225 -55 245 105 Q265 200 300 285 Q350 390 400 475 L480 565 L560 645 L605 790 L615 1000 L575 1120 L505 1210 L475 1228 L440 1210 L380 1125 L300 985 L250 800 L235 645"/>
<path d="M222 140 Q245 250 275 330 Q310 410 360 490 L450 600 L530 680"/>
<path d="M200 160 Q150 165 140 260 L140 330 Q150 520 200 620 L235 645 M215 225 Q165 250 165 350 Q170 500 215 590 Q245 570 242 450 L238 330"/>
<path d="M287 617 L548 992 M252 649 L507 1005 L545 1024"/>
<path d="M232 -160 L242 -158 L245 -115 L236 -112 M245 80 L258 85 L262 120 L250 122 M305 300 L320 300 L328 340 L315 348 M450 540 L468 538 L478 575 L462 585"/>
</g>
</g>
</defs>
<use href="#grilleL"/>
<use href="#grilleL" y="218.500"/>
<!-- part 17 hole: Z4 coords -->
<g class="l" transform="translate(180,980) scale(0.15225)">
<ellipse cx="455" cy="630" rx="62" ry="95" fill="#fff" stroke="none"/>
<ellipse cx="455" cy="632" rx="48" ry="76" fill="#fff"/>
<path d="M425 580 Q430 660 490 700 M360 540 L372 620 L420 725 L500 725 L545 640 M500 640 L545 625"/>
</g>
<!-- part 26: Z2 coords -->
<g class="l" transform="translate(180,700) scale(0.15225)">
<path d="M685 155 L760 108 L785 125 L835 215 L855 290 L885 540 L835 575 L1055 775 L1065 800 L1000 985 L930 1030 L900 1020 L700 745 L680 690 L672 400 L700 385 L705 200 Z"/>
<path d="M770 290 L780 330 L760 355 L700 385 M780 330 L790 500 L820 570 L960 740 L975 790 L1000 800 L1060 790 M745 400 L750 640 L790 740 L950 960 L940 1025 M835 580 L950 745 M975 800 L950 960 M795 255 L830 270"/>
<path d="M690 165 L715 160 L722 190 L698 195 Z M745 245 L780 240 L786 272 L752 278 Z M955 735 L990 728 L996 765 L962 772 Z M960 900 L985 893 L990 925 L965 932 Z"/>
</g>
<!-- part 27: Z3 coords -->
<g class="l" transform="translate(180,870) scale(0.15225)">
<path d="M685 450 L760 400 L790 425 L840 510 L860 590 L885 840 L905 1050 L900 1170 L830 1225 L700 1030 L680 985 L672 695 L700 680 L705 495 Z"/>
<path d="M770 585 L780 625 L760 650 L700 680 M780 625 L790 800 L825 870 L885 840 M745 695 L750 940 L790 1040 L830 1105 L830 1225 M825 870 L830 1105 M795 550 L830 565"/>
<path d="M690 460 L715 455 L722 485 L698 490 Z M745 540 L780 535 L786 567 L752 573 Z"/>
</g>
<defs><g id="sens15">
<g class="l" transform="translate(180,700) scale(0.15225)">
<path d="M1110 300 L1118 340 L1135 400 L1165 450 L1180 540 L1235 600 L1245 735 L1225 720 L1195 640 L1165 600 M1110 300 L1112 400 L1125 455 M1200 600 L1215 660 L1230 640 Z"/>
<path d="M1045 490 Q1060 460 1090 455 L1150 470 L1170 520 L1165 590 L1110 600 L1070 590 Q1045 560 1045 490 Z" fill="#fff"/>
<ellipse cx="1066" cy="525" rx="21" ry="48"/>
<path d="M1090 455 L1105 510 L1110 600 M1105 510 L1165 500"/>
</g></g></defs>
<use href="#sens15"/>
<use href="#sens15" x="3" y="212.600"/>
<g class="l">
<line x1="210.500" y1="635.800" x2="210.500" y2="664.700"/>
<line x1="290.800" y1="689.800" x2="290.800" y2="715"/>
<line x1="349" y1="715" x2="349" y2="741.600"/>
<line x1="254.100" y1="1109.400" x2="254.100" y2="1134.500"/>
<line x1="310.200" y1="1057" x2="310.200" y2="1082"/>
<line x1="371.100" y1="1025.300" x2="371.100" y2="1053.500"/>
</g>
<text x="197.500" y="632.500" font-size="31" textLength="30" lengthAdjust="spacingAndGlyphs">18</text>
<text x="276" y="684.500" font-size="31" textLength="32.500" lengthAdjust="spacingAndGlyphs">26</text>
<text x="336" y="710" font-size="31" textLength="29.500" lengthAdjust="spacingAndGlyphs">15</text>
<text x="239" y="1161" font-size="31" textLength="29.500" lengthAdjust="spacingAndGlyphs">17</text>
<text x="297.500" y="1109.500" font-size="31" textLength="33" lengthAdjust="spacingAndGlyphs">27</text>
<text x="359" y="1080" font-size="31" textLength="29" lengthAdjust="spacingAndGlyphs">15</text>

<defs>
<pattern id="hexB" width="22.500" height="11.400" patternUnits="userSpaceOnUse" patternTransform="translate(3,2) rotate(5.500)">
<path d="M0 5.700 L3.750 0 L11.250 0 L15 5.700 L11.250 11.400 L3.750 11.400 Z M15 5.700 L22.500 5.700" stroke="#1c1c1c" stroke-width="1.450" fill="none"/>
</pattern>
</defs>
<!-- part 16 mesh -->
<polygon fill="url(#hexB)" stroke="none" points="634.200,1259.900 740,1269.900 799.400,1277.100 828.300,1284.700 846.600,1297.600 858.800,1312.900 877,1354 879.300,1364.600 877,1371 869.400,1372.200 740,1370.700 655.500,1365.400 641,1362.400 637.200,1354 622.700,1311.400 623.800,1293.800"/>
<!-- part 16 left: zoom A1 region [590,1220,810,1440] scale 6.568 -->
<g class="l" transform="translate(590,1220) scale(0.15225)">
<path class="w" stroke="none" d="M190 490 Q90 510 80 540 Q80 570 130 585 L190 590 L1040 655 L1055 588 Z"/>
<path d="M1040 590 L190 490 Q90 510 80 540 Q80 570 130 585 L190 590 L1040 655 M150 535 L1040 612 M150 535 Q140 545 150 557 L1035 640"/>
<path d="M200 485 L240 280 Q245 250 270 235 L370 215 L985 300 M225 485 L262 290 Q268 265 290 262 L985 328"/>
<path d="M190 590 L290 890 Q320 960 420 975 L1000 1020 L1445 1012 M215 600 L310 880 Q335 940 430 955 L1000 1000 L1445 990"/>
<path d="M355 222 L360 212 L435 222 L440 234 M655 258 L660 248 L722 256 L726 268 M955 292 L960 284 L1012 290 L1016 300 M1255 322 L1260 314 L1316 320 L1320 332"/>
</g>
<!-- part 16 right: zoom A2 region [740,1220,960,1440] scale 6.568 -->
<g class="l" transform="translate(740,1220) scale(0.15225)">
<path d="M0 300 L270 325 L400 350 Q600 400 720 490 L800 590 Q880 750 935 900 Q950 950 940 980 Q920 1020 860 1025 L460 1012"/>
<path d="M0 328 L390 375 Q580 420 700 510 L780 610 L900 880 L915 950 Q900 995 850 1000 L460 990"/>
<path d="M720 490 Q770 455 800 490 Q812 530 780 547 M930 835 Q990 820 1010 860 Q1012 900 950 912"/>
<ellipse class="w" cx="357" cy="652" rx="292" ry="217" transform="rotate(6 357 652)"/>
<ellipse cx="357" cy="652" rx="272" ry="200" transform="rotate(6 357 652)"/>
<ellipse cx="338" cy="662" rx="213" ry="172" transform="rotate(8 338 662)"/>
<path d="M400 505 Q285 540 280 650 Q290 770 420 795"/>
<path class="w" stroke="none" d="M640 600 L790 570 L810 720 L650 725 Z"/>
<path d="M650 620 L775 580 M635 650 L790 630 M640 682 L800 665 M650 712 L800 700 M775 580 L800 700"/>
<circle class="w" cx="275" cy="920" r="56"/><circle cx="275" cy="920" r="38"/>
</g>
<!-- part 25 : zoom A3 region [690,1110,910,1330] scale 6.568 -->
<g class="l" transform="translate(690,1110) scale(0.15225)">
<path d="M125 550 Q130 525 165 520 L230 512 L700 545 L730 540 L730 505 L770 320 Q780 295 820 285 L880 245 L1120 265 Q1140 275 1135 300 L1120 520 L1135 570 L1125 860 L1105 895 L1010 940 L985 945 L480 915 Q300 890 240 820 Q210 780 170 640 L125 585 Z"/>
<path d="M230 512 L245 575 Q300 760 340 800 Q400 860 520 870 L1010 905 L1010 940 M245 575 L700 600 L720 560 L780 545 L820 500 L860 300 L1085 320 L1040 590 L1060 620 L1010 905"/>
<path d="M165 540 L240 545 M700 545 L700 600 M730 540 L780 545 M820 285 L860 300 M880 245 L900 290 M1085 320 L1120 265 M1060 620 L1135 575 M1040 590 L1120 520 M980 295 L990 315 L1040 318"/>
<path d="M1085 405 L1125 400 Q1142 410 1125 420 L1090 422 Z M1090 670 L1130 665 Q1147 678 1130 688 L1095 690 Z M150 715 L185 705 L200 755 L165 765 Z"/>
</g>
<!-- part 15 bottom: A2 coords -->
<g class="l" transform="translate(740,1220) scale(0.15225)">
<path d="M860 310 L890 295 L905 310 L950 310 L960 295 L1050 300 L1090 290 L1130 295 L1160 310 L1200 310 L1215 300 L1280 305 L1310 440 L1290 455 L1220 450 L1205 435 L1160 435 L1140 455 L1050 455 L990 440 L975 425 L920 425 L905 440 L880 435 Z"/>
<path d="M905 365 L965 365 L968 387 L908 387 Z M1205 370 L1265 370 L1268 392 L1208 392 Z"/>
<path class="w" d="M1015 370 L1075 310 L1120 300 L1140 345 L1100 405 Z"/>
<path d="M1090 330 L1115 305 M1075 310 L1095 345"/>
<circle class="w" cx="1050" cy="410" r="52" stroke-width="2.200"/><circle cx="1050" cy="412" r="36"/>
</g>
<g class="l">
<line x1="744.500" y1="1377" x2="744.500" y2="1408"/>
<line x1="761.600" y1="1156.400" x2="761.600" y2="1187.600"/>
<line x1="907" y1="1230.500" x2="907" y2="1262"/>
</g>
<text x="731.500" y="1433.500" font-size="31" textLength="30.500" lengthAdjust="spacingAndGlyphs">16</text>
<text x="746" y="1152.500" font-size="31" textLength="33" lengthAdjust="spacingAndGlyphs">25</text>
<text x="892" y="1226.500" font-size="31" textLength="32" lengthAdjust="spacingAndGlyphs">15</text>

<!-- red highlight box + part 21: zoom B1 region [610,200,750,340] scale 10.321 -->
<path d="M656.500 214.500 H732.100 V301.700 H656.500 Z M668.100 226.200 V290.600 H720.500 V226.200 Z" fill="#ee1727" fill-rule="evenodd"/>
<g class="l" transform="translate(610,200) scale(0.09689)">
<ellipse cx="940" cy="495" rx="90" ry="55"/>
<path d="M905 540 L905 650 Q940 675 975 650 L975 540"/>
<path class="w" d="M905 612 Q840 615 830 660 Q840 715 940 722 Q1040 715 1050 660 Q1040 615 975 612 L975 650 Q940 675 905 650 Z"/>
<path d="M880 715 Q865 800 905 870 L940 885 L985 870 Q1020 800 1005 718 M925 720 L920 800 L940 885 M955 720 L960 800 L940 885 M895 740 L890 820 M990 740 L992 820"/>
<path d="M940 885 L940 935 M940 1050 L940 1110" stroke-width="1.100"/>
<path d="M610 660 L790 660"/>
<ellipse cx="937" cy="1108" rx="38" ry="22"/>
</g>
<text x="628" y="273" font-size="31" textLength="28" lengthAdjust="spacingAndGlyphs">21</text>
<text x="662.500" y="757" font-size="31" textLength="16" lengthAdjust="spacingAndGlyphs">2</text>
<text x="581.500" y="815.500" font-size="31">1</text>
<text x="626" y="815.500" font-size="31" textLength="138" lengthAdjust="spacingAndGlyphs">12, 13, 14</text>
<g class="l">
<line x1="593.800" y1="821.600" x2="593.800" y2="868"/>
<path d="M560.500 808.400 L578.500 786.900 L640 786.900"/>
</g>

</svg>
</body></html>
